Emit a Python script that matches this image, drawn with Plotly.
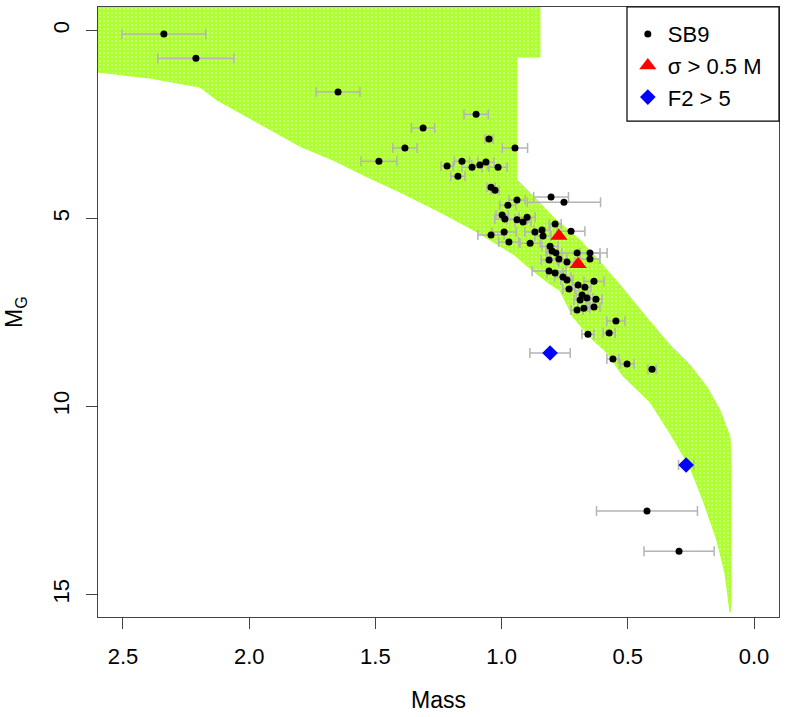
import plotly.graph_objects as go

# ---- isochrone envelope (region covered by the model grid) ----
region_mass = [2.8, 0.848, 0.848, 0.939, 0.939, 0.860, 0.796, 0.689, 0.610, 0.531, 0.424, 0.333,
               0.254, 0.186, 0.135, 0.095, 0.091, 0.091, 0.091, 0.095,
               0.115, 0.147, 0.202, 0.254, 0.333, 0.412, 0.519, 0.582, 0.650, 0.717, 0.769,
               0.808, 0.899, 0.947, 1.097, 1.244, 1.403, 1.541, 1.668, 1.799, 1.929, 2.128,
               2.195, 2.393, 2.599, 2.8]
region_mg = [-1.0, -1.0, 0.71, 0.71, 3.98, 4.51, 4.97, 5.58, 6.16, 6.77, 7.65, 8.37,
             8.90, 9.49, 10.10, 10.82, 11.61, 13.64, 15.15, 15.47,
             14.43, 13.56, 12.49, 11.61, 10.71, 9.88, 9.19, 8.58, 8.16, 7.62, 6.91,
             6.75, 6.27, 5.98, 5.36, 4.83, 4.30, 3.87, 3.45, 3.08, 2.60, 1.85,
             1.51, 1.27, 1.11, 1.0]

# ---- SB9 binaries ----
sb9_mass = [2.338, 2.211, 1.648, 1.486, 1.383, 1.311, 1.101, 1.050, 0.947, 1.216,
            1.157, 1.173, 1.117, 1.086, 1.062, 1.014, 1.042, 1.026, 0.804, 0.753,
            0.939, 0.975, 0.998, 0.987, 0.939, 0.915, 0.899, 1.042, 0.990, 0.971,
            0.887, 0.868, 0.840, 0.836, 0.788, 0.725, 0.808, 0.800, 0.785, 0.701,
            0.650, 0.650, 0.812, 0.773, 0.741, 0.812, 0.788, 0.757, 0.741, 0.733,
            0.697, 0.670, 0.634, 0.681, 0.689, 0.662, 0.626, 0.701, 0.674, 0.634,
            0.547, 0.574, 0.658, 0.559, 0.503, 0.404, 0.424, 0.297]
sb9_mg = [0.10, 0.74, 1.64, 3.48, 3.13, 2.60, 2.23, 2.89, 3.13, 3.61,
          3.48, 3.88, 3.64, 3.58, 3.50, 3.64, 4.17, 4.25, 4.43, 4.57,
          4.51, 4.65, 4.91, 5.02, 5.04, 5.10, 4.97, 5.44, 5.36, 5.63,
          5.66, 5.36, 5.31, 5.47, 5.15, 5.34, 5.74, 5.87, 5.92, 5.92,
          5.92, 6.08, 6.11, 6.08, 6.16, 6.40, 6.45, 6.56, 6.64, 6.88,
          6.77, 6.83, 6.67, 7.04, 7.17, 7.12, 7.15, 7.44, 7.39, 7.36,
          7.73, 8.05, 8.08, 8.74, 8.87, 9.01, 12.78, 13.85]
sb9_err = [0.166, 0.151, 0.087, 0.071, 0.048, 0.046, 0.048, 0.016, 0.050, 0.024,
           0.030, 0.028, 0.040, 0.032, 0.032, 0.036, 0.016, 0.016, 0.069, 0.145,
           0.032, 0.032, 0.024, 0.040, 0.040, 0.032, 0.032, 0.052, 0.048, 0.040,
           0.040, 0.040, 0.032, 0.032, 0.024, 0.055, 0.032, 0.024, 0.024, 0.119,
           0.040, 0.040, 0.032, 0.032, 0.032, 0.067, 0.032, 0.032, 0.024, 0.024,
           0.024, 0.024, 0.040, 0.024, 0.024, 0.024, 0.024, 0.024, 0.024, 0.024,
           0.036, 0.024, 0.024, 0.024, 0.028, 0.016, 0.200, 0.139]

# ---- sigma > 0.5 M ----
sig_mass = [0.773, 0.697]
sig_mg = [5.47, 6.22]

# ---- F2 > 5 ----
f2_mass = [0.808, 0.269]
f2_mg = [8.58, 11.56]
f2_err = [0.080, 0.030]

FONT = "Liberation Sans"
GREEN = "#ADFF2F"

fig = go.Figure()

fig.add_trace(go.Scatter(
    x=region_mass, y=region_mg, mode="lines", fill="toself",
    fillcolor=GREEN, line=dict(color=GREEN, width=1),
    fillpattern=dict(shape=".", fgcolor="white", bgcolor=GREEN, fgopacity=0.8,
                     size=4, solidity=0.12),
    showlegend=False, hoverinfo="skip"))

fig.add_trace(go.Scatter(
    x=sb9_mass, y=sb9_mg, mode="markers", name="SB9",
    marker=dict(color="black", size=7, symbol="circle"),
    error_x=dict(type="data", array=sb9_err, color="#B4B4B4", thickness=1.5, width=5)))

fig.add_trace(go.Scatter(
    x=sig_mass, y=sig_mg, mode="markers", name="σ > 0.5 M",
    marker=dict(color="red", size=15, symbol="triangle-up")))

fig.add_trace(go.Scatter(
    x=f2_mass, y=f2_mg, mode="markers", name="F2 > 5",
    marker=dict(color="blue", size=12, symbol="diamond"),
    error_x=dict(type="data", array=f2_err, color="#B4B4B4", thickness=1.5, width=5)))

axis_common = dict(
    showgrid=False, zeroline=False, showline=True, mirror=True, automargin=False,
    linecolor="#444444", linewidth=1.2, ticks="outside", ticklen=11,
    tickcolor="#444444", tickwidth=1.2,
    tickfont=dict(family=FONT, size=22, color="black"),
    ticklabelstandoff=8)

fig.update_xaxes(range=[2.599, -0.099], tickvals=[0, 0.5, 1.0, 1.5, 2.0, 2.5],
                 tickformat=".1f", **axis_common)
fig.update_yaxes(range=[15.6, -0.62], tickvals=[0, 5, 10, 15], tickangle=-90,
                 **axis_common)

fig.add_annotation(text="Mass", xref="paper", yref="paper", x=0.5, y=-0.136,
                   showarrow=False, font=dict(family=FONT, size=23, color="black"),
                   xanchor="center", yanchor="middle")
fig.add_annotation(text="M<sub>G</sub>", xref="paper", yref="paper", x=-0.122, y=0.5,
                   showarrow=False, textangle=-90,
                   font=dict(family=FONT, size=23, color="black"),
                   xanchor="center", yanchor="middle")

# legend frame
fig.add_shape(type="rect", xref="paper", yref="paper",
              x0=0.7768, x1=1.0, y0=0.813, y1=1.0,
              line=dict(color="black", width=1.2), fillcolor="white", layer="above")

fig.update_layout(
    width=786, height=717,
    margin=dict(l=98, r=7, t=7, b=100, autoexpand=False),
    paper_bgcolor="white", plot_bgcolor="white",
    showlegend=True,
    legend=dict(x=0.778, y=0.99, xanchor="left", yanchor="top",
                borderwidth=0, bgcolor="rgba(0,0,0,0)",
                font=dict(family=FONT, size=22, color="black"),
                tracegroupgap=0, itemsizing="trace"),
)

fig.write_html("out.html", config={"displayModeBar": False},
               post_script="document.body.style.margin='0px';")
